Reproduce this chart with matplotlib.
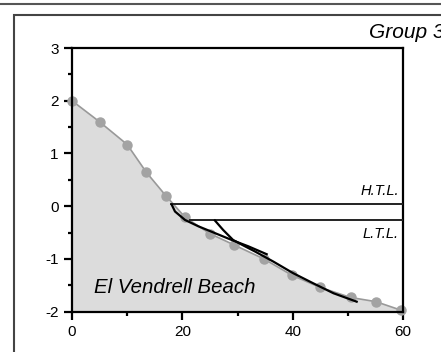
import matplotlib.pyplot as plt
from matplotlib.patches import Rectangle
from matplotlib.lines import Line2D

plt.rcParams['font.family'] = ['Liberation Sans', 'DejaVu Sans']
plt.rcParams['axes.unicode_minus'] = False

# measured beach profile
dist = [0, 5, 10, 13.5, 17, 20.5, 25, 29.3, 34.8, 39.9, 45, 50.5, 55.1, 59.6]
elev = [2.0, 1.6, 1.17, 0.64, 0.2, -0.21, -0.52, -0.73, -1.0, -1.31, -1.54, -1.73, -1.81, -1.97]

# tide levels
htl = 0.04
ltl = -0.27
htl_start = 18.0
ltl_start = 21.4

# fitted profile from H.T.L.
fit1_x = [18.07, 18.67, 20.48, 22.89, 25.92, 28.95, 31.96, 35.29]
fit1_y = [0.03, -0.10, -0.26, -0.38, -0.51, -0.64, -0.76, -0.91]

# fitted profile from L.T.L.
fit2_x = [25.9, 27.4, 29.2, 30.8, 33.2, 36.5, 40.1, 43.7, 47.4, 51.6]
fit2_y = [-0.27, -0.45, -0.64, -0.73, -0.86, -1.05, -1.27, -1.46, -1.65, -1.81]

fig = plt.figure(figsize=(4.41, 3.52), dpi=100)

# outer frame lines
fig.add_artist(Line2D([0, 1], [1 - 3.5/352, 1 - 3.5/352], color='#555555', lw=1.5,
                      transform=fig.transFigure))
fig.add_artist(Rectangle((14/441, -0.1), 1.2, 1.1 - 15/352, fill=False,
                         edgecolor='#444444', lw=1.5, transform=fig.transFigure))

ax = fig.add_axes([72/441, 40.3/352, 331/441, 263.7/352])

ax.fill_between(dist, elev, -2, color='#dcdcdc', lw=0, zorder=1)
ax.plot(dist, elev, color='#999999', lw=1.2, marker='o', ms=6.5,
        mfc='#a3a3a3', mec='#a3a3a3', zorder=2, clip_on=False)

ax.plot([htl_start, 60], [htl, htl], color='#222222', lw=1.4, zorder=3)
ax.plot([ltl_start, 60], [ltl, ltl], color='#222222', lw=1.4, zorder=3)
ax.plot(fit1_x, fit1_y, color='black', lw=1.6, zorder=4)
ax.plot(fit2_x, fit2_y, color='black', lw=1.6, zorder=4)

ax.text(59.3, htl + 0.12, 'H.T.L.', style='italic', ha='right', va='bottom', fontsize=10.5)
ax.text(59.3, ltl - 0.12, 'L.T.L.', style='italic', ha='right', va='top', fontsize=10.5)
ax.text(4, -1.54, 'El Vendrell Beach', style='italic', ha='left', va='center', fontsize=14.7)

fig.text(369/441, 1 - 33/352, 'Group 3', style='italic', ha='left', va='center', fontsize=15)

ax.set_xlim(0, 60)
ax.set_ylim(-2, 3)
ax.set_xticks([0, 20, 40, 60])
ax.set_xticks([10, 30, 50], minor=True)
ax.set_yticks([-2, -1, 0, 1, 2, 3])
ax.set_yticks([-1.5, -0.5, 0.5, 1.5, 2.5], minor=True)
for s in ax.spines.values():
    s.set_linewidth(1.6)
ax.tick_params(which='major', direction='out', length=5.5, width=1.6, labelsize=11, pad=4)
ax.tick_params(which='minor', direction='out', length=3, width=1.6)

fig.savefig('out.png', dpi=100)
